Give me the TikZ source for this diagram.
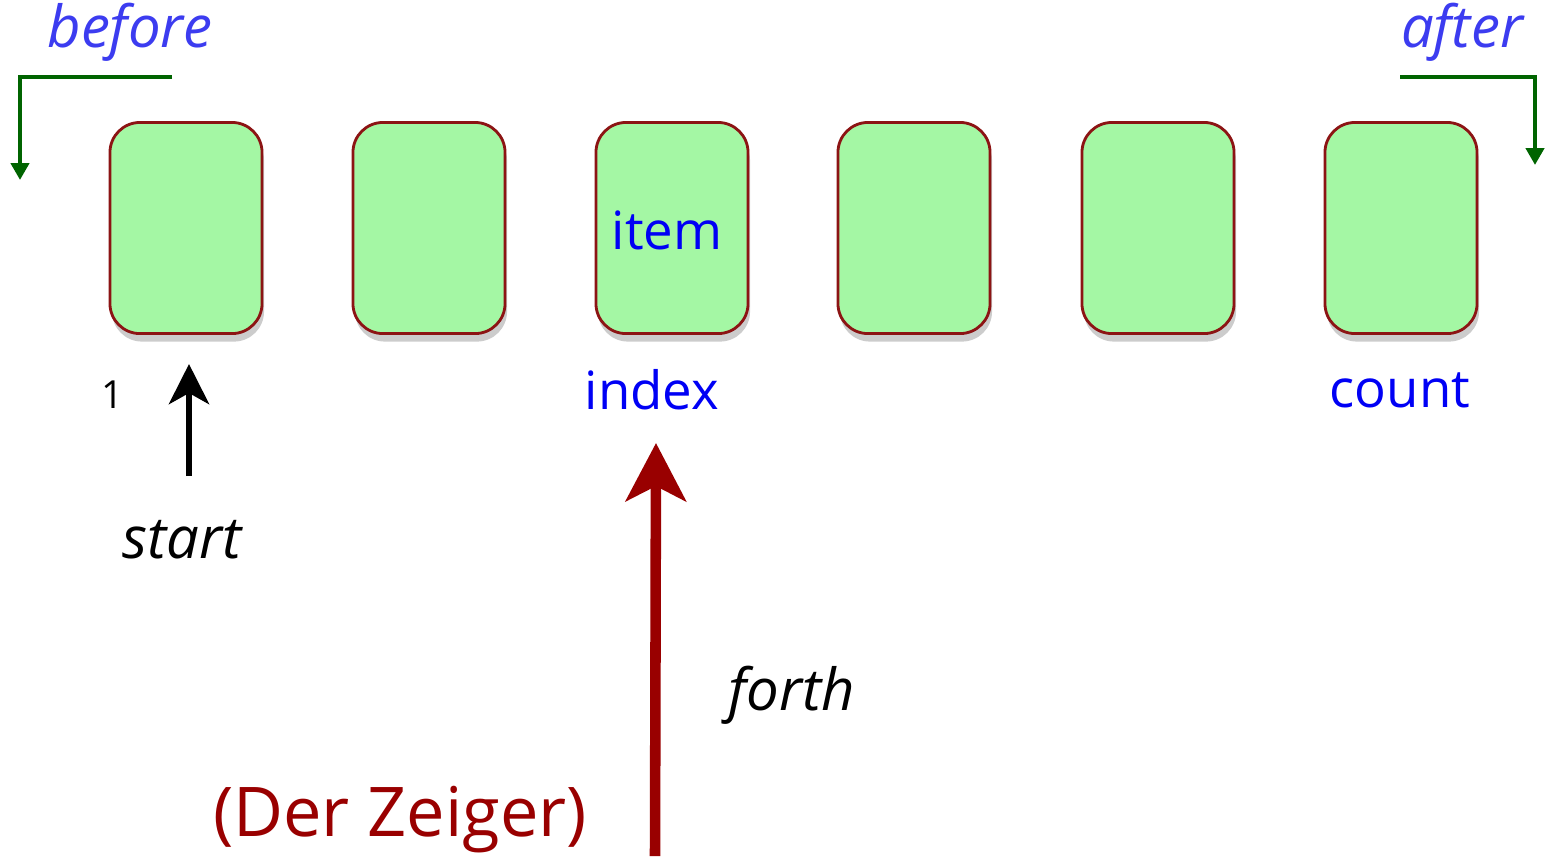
\documentclass[tikz,border=0pt]{standalone}
\usepackage{fontspec}
\setmainfont{Open Sans}
\usepackage{xcolor}
\usetikzlibrary{arrows.meta}
\usetikzlibrary{shadows}
\usetikzlibrary{positioning}
\definecolor{cellgreen}{RGB}{164,247,164}
\definecolor{cellrim}{RGB}{140,20,20}
\definecolor{labelblue}{RGB}{0,0,245}
\definecolor{softblue}{RGB}{60,60,240}
\definecolor{bracketgreen}{RGB}{0,100,0}
\definecolor{pointerred}{RGB}{153,0,0}

\tikzset{
  cell/.style={draw=cellrim,line width=0.8pt,fill=cellgreen,rounded corners=0.3cm,
    minimum width=1.52cm,minimum height=2.11cm,
    drop shadow={shadow xshift=0.02cm,shadow yshift=-0.08cm,opacity=0.4}},
  bracket/.style={bracketgreen,line width=1.4pt,-{Triangle[length=0.17cm,width=0.18cm]}},
  marker/.style={font=\fontsize{15}{18}\selectfont,text=labelblue},
  note/.style={font=\fontsize{16.5}{20}\selectfont\itshape}
}

\begin{document}
\begin{tikzpicture}[x=0.01cm,y=-0.01cm]
	\useasboundingbox (0,0) rectangle (1548,856);
	
	\foreach \i/\x in {1/186,2/429,3/672,4/914,5/1158,6/1401}
		\node [cell] (c\i) at (\x,228) {};
	
	\node [marker] (item) at (667,230) {item};
	\node [marker] (index) at (652,390) {index};
	\node [marker] (count) at (1400,390) {count};
	
	\node [note,text=softblue] (before) at (130,32) {before};
	\node [note,text=softblue] (after) at (1462,32) {after};
	\coordinate (b1) at (172,77);
	\coordinate (b2) at (20,180);
	\coordinate (a1) at (1400,77);
	\coordinate (a2) at (1535,165);
	\draw [bracket] (b1) -| (b2);
	\draw [bracket] (a1) -| (a2);
	
	\node [font=\fontsize{11}{13}\selectfont] (one) at (113,395) {1};
	\node [note] (start) at (182,540) {start};
	\coordinate (s0) at (189,476);
	\coordinate (s1) at (189,364);
	\draw [line width=1.8pt,-{Stealth[length=0.4cm,width=0.4cm,inset=0.11cm]}] (s0) -- (s1);
	
	\node [note] (forth) at (792,695) {forth};
	\node [text=pointerred,font=\fontsize{19.5}{23}\selectfont] (zeiger) at (400,820) {(Der Zeiger)};
	\coordinate (p0) at (655,856);
	\coordinate (p1) at (656,443);
	\draw [pointerred,line width=3pt,-{Stealth[length=0.58cm,width=0.6cm,inset=0.15cm]}] (p0) -- (p1);
	
\end{tikzpicture}
\end{document}
